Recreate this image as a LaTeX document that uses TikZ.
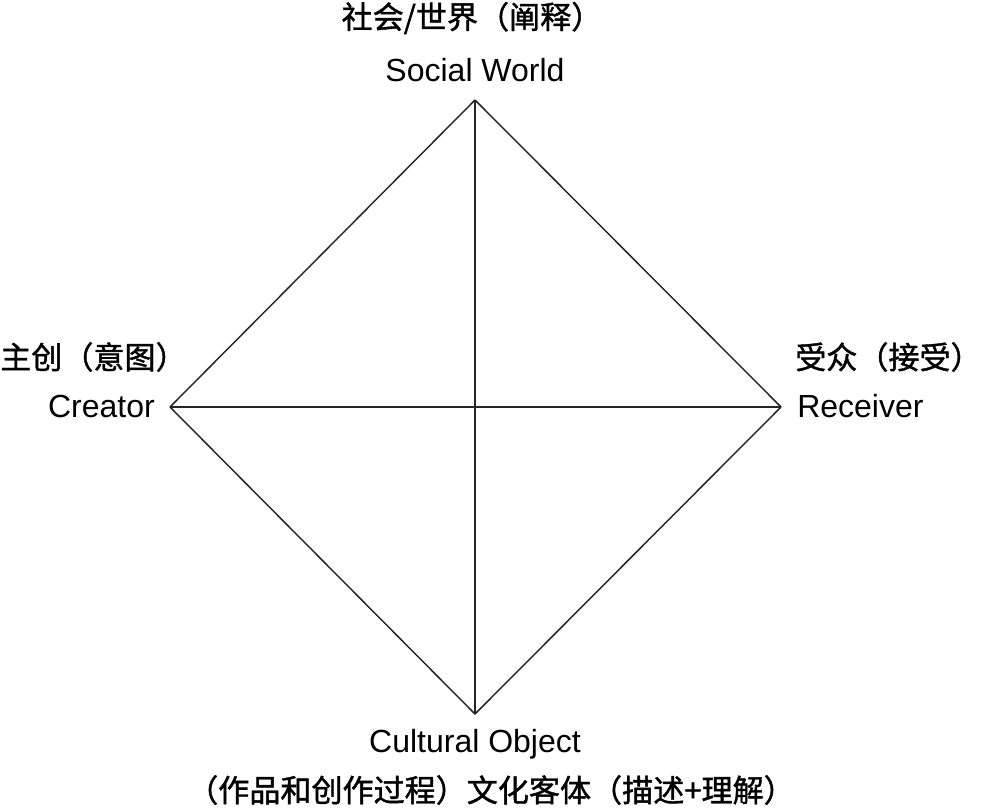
\documentclass[tikz,border=0pt]{standalone}
\usepackage{fontspec}
\setmainfont{Liberation Sans}
\newfontfamily\cjk{Noto Sans CJK SC}[FakeBold=1.3]
\usetikzlibrary{positioning}

\tikzset{
  lbl/.style={inner sep=0pt, font=\fontsize{24}{28}\selectfont},
  cjklbl/.style={inner sep=0pt, font=\fontsize{23.3}{28}\selectfont\cjk},
  edge/.style={line width=1.1pt, draw=black!85}
}

\begin{document}
\begin{tikzpicture}[x=0.75pt,y=-0.75pt]
            \useasboundingbox (0,0) rectangle (1001,808);

            %Corners
            \coordinate (world) at (475,100);
            \coordinate (creator) at (170,407);
            \coordinate (receiver) at (781,407);
            \coordinate (object) at (475,714);

            %Labels
            \node[cjklbl] at (472,18) (worldzh) {社会/世界（阐释）};
            \node[lbl] at (475,70) (worldlbl) {Social World};
            \node[cjklbl, anchor=west] at (0,357) (creatorzh) {主创（意图）};
            \node[lbl, anchor=east] at (155,406) (creatorlbl) {Creator};
            \node[cjklbl, anchor=west] at (795,357) (receiverzh) {受众（接受）};
            \node[lbl, anchor=west] at (797,406) (receiverlbl) {Receiver};
            \node[lbl] at (475,744) (objectlbl) {Cultural Object};
            \node[cjklbl] at (491,790) (objectzh) {（作品和创作过程）文化客体（描述+理解）};

            %Lines
            \draw[edge] (world) -- (creator);
            \draw[edge] (world) -- (receiver);
            \draw[edge] (creator) -- (object);
            \draw[edge] (receiver) -- (object);
            \draw[edge] (world) -- (object);
            \draw[edge] (creator) -- (receiver);
\end{tikzpicture}
\end{document}
